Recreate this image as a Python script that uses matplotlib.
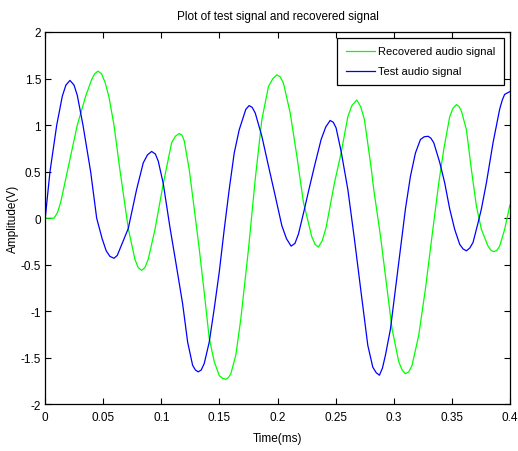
import matplotlib
matplotlib.use("Agg")
import matplotlib.pyplot as plt

plt.rcParams["font.family"] = ["Liberation Sans Narrow", "Liberation Sans", "DejaVu Sans"]

# time axis (ms) and amplitudes (V)
test_t = [0.0, 0.0041, 0.0099, 0.0147, 0.0178, 0.0213, 0.0248, 0.0276, 0.0325,
          0.0391, 0.0443, 0.0490, 0.0525, 0.0557, 0.0592, 0.0620, 0.0643, 0.0715,
          0.0787, 0.0844, 0.0880, 0.0916, 0.0948, 0.0973, 0.1016, 0.1074, 0.1125,
          0.1183, 0.1226, 0.1269, 0.1293, 0.1317, 0.1343, 0.1369, 0.1412, 0.1455,
          0.1498, 0.1541, 0.1584, 0.1627, 0.1670, 0.1727, 0.1756, 0.1782, 0.1808,
          0.1865, 0.1922, 0.1980, 0.2037, 0.2077, 0.2117, 0.2150, 0.2180, 0.2232,
          0.2261, 0.2318, 0.2375, 0.2415, 0.2453, 0.2480, 0.2504, 0.2547, 0.2605,
          0.2662, 0.2719, 0.2777, 0.2820, 0.2850, 0.2877, 0.2903, 0.2929, 0.2972,
          0.3015, 0.3058, 0.3101, 0.3144, 0.3187, 0.3230, 0.3263, 0.3296, 0.3320,
          0.3345, 0.3396, 0.3439, 0.3482, 0.3525, 0.3568, 0.3597, 0.3626, 0.3655,
          0.3683, 0.3726, 0.3755, 0.3798, 0.3855, 0.3912, 0.3935, 0.3955, 0.4000]
test_v = [0.0, 0.50, 1.00, 1.31, 1.43, 1.48, 1.43, 1.32, 1.00,
          0.50, 0.00, -0.22, -0.35, -0.41, -0.43, -0.40, -0.33, -0.11,
          0.31, 0.595, 0.68, 0.717, 0.69, 0.613, 0.374, -0.10, -0.48,
          -0.92, -1.33, -1.58, -1.63, -1.65, -1.63, -1.56, -1.33, -0.97,
          -0.58, -0.12, 0.31, 0.70, 0.95, 1.17, 1.21, 1.19, 1.13,
          0.88, 0.56, 0.24, -0.08, -0.22, -0.30, -0.27, -0.17, 0.10,
          0.26, 0.56, 0.845, 0.98, 1.05, 1.03, 0.97, 0.72, 0.31,
          -0.225, -0.795, -1.365, -1.60, -1.66, -1.686, -1.61, -1.47, -1.19,
          -0.76, -0.33, 0.10, 0.45, 0.70, 0.845, 0.875, 0.88, 0.86,
          0.81, 0.60, 0.38, 0.10, -0.12, -0.28, -0.33, -0.35, -0.32,
          -0.26, -0.05, 0.10, 0.38, 0.81, 1.17, 1.27, 1.33, 1.36]

rec_t = [0.0, 0.0076, 0.0105, 0.0133, 0.0190, 0.0276, 0.0348, 0.0400, 0.0425,
         0.0454, 0.0485, 0.0515, 0.0549, 0.0592, 0.0643, 0.0715, 0.0772, 0.0800,
         0.0830, 0.0858, 0.0887, 0.0945, 0.1016, 0.1088, 0.1120, 0.1154, 0.1178,
         0.1197, 0.1240, 0.1283, 0.1326, 0.1369, 0.1412, 0.1455, 0.1498, 0.1527,
         0.1555, 0.1578, 0.1598, 0.1641, 0.1684, 0.1750, 0.1808, 0.1865, 0.1922,
         0.1960, 0.1994, 0.2022, 0.2051, 0.2109, 0.2166, 0.2223, 0.2295, 0.2323,
         0.2352, 0.2385, 0.2418, 0.2490, 0.2547, 0.2605, 0.2640, 0.2682, 0.2715,
         0.2748, 0.2805, 0.2828, 0.2886, 0.2943, 0.2986, 0.3043, 0.3072, 0.3101,
         0.3130, 0.3158, 0.3215, 0.3273, 0.3330, 0.3388, 0.3431, 0.3482, 0.3510,
         0.3540, 0.3562, 0.3583, 0.3626, 0.3669, 0.3712, 0.3755, 0.3812, 0.3838,
         0.3863, 0.3888, 0.3912, 0.3955, 0.4000]
rec_v = [0.0, 0.0, 0.06, 0.17, 0.50, 1.00, 1.31, 1.49, 1.55,
         1.58, 1.55, 1.46, 1.30, 1.00, 0.52, -0.11, -0.44, -0.53,
         -0.56, -0.53, -0.44, -0.12, 0.37, 0.81, 0.88, 0.91, 0.89,
         0.83, 0.52, 0.10, -0.33, -0.80, -1.29, -1.54, -1.69, -1.72,
         -1.73, -1.71, -1.67, -1.47, -1.08, -0.33, 0.42, 1.06, 1.415,
         1.50, 1.54, 1.52, 1.45, 1.13, 0.67, 0.17, -0.20, -0.28,
         -0.31, -0.24, -0.10, 0.38, 0.70, 1.09, 1.21, 1.27, 1.20,
         1.06, 0.55, 0.31, -0.19, -0.76, -1.19, -1.54, -1.63, -1.67,
         -1.65, -1.58, -1.26, -0.76, -0.19, 0.38, 0.74, 1.09, 1.18,
         1.22, 1.20, 1.15, 0.95, 0.52, 0.13, -0.12, -0.30, -0.345,
         -0.36, -0.345, -0.30, -0.12, 0.14]

x_ticks = [0, 0.05, 0.1, 0.15, 0.2, 0.25, 0.3, 0.35, 0.4]
x_labels = ["0", "0.05", "0.1", "0.15", "0.2", "0.25", "0.3", "0.35", "0.4"]
y_ticks = [-2, -1.5, -1, -0.5, 0, 0.5, 1, 1.5, 2]
y_labels = ["-2", "-1.5", "-1", "-0.5", "0", "0.5", "1", "1.5", "2"]

fig = plt.figure(figsize=(5.18, 4.52), dpi=100)
ax = fig.add_axes([0.0873, 0.103, 0.897, 0.824])

ax.plot(rec_t, rec_v, color="#00ff00", linewidth=0.9, label="Recovered audio signal")
ax.plot(test_t, test_v, color="#0000ff", linewidth=0.9, label="Test audio signal")

ax.set_xlim(0, 0.4)
ax.set_ylim(-2, 2)
ax.set_xticks(x_ticks)
ax.set_xticklabels(x_labels)
ax.set_yticks(y_ticks)
ax.set_yticklabels(y_labels)
ax.tick_params(direction="in", top=True, right=True, length=4, width=0.8,
               labelsize=8.5)
ax.tick_params(axis="x", pad=5)
ax.tick_params(axis="y", pad=3)
for sp in ax.spines.values():
    sp.set_linewidth(0.9)

ax.set_title("Plot of test signal and recovered signal", fontsize=8.5, pad=9)
ax.set_xlabel("Time(ms)", fontsize=8.5, labelpad=6)
ax.set_ylabel("Amplitude(V)", fontsize=8.5, labelpad=1)

leg = ax.legend(loc="upper right", fontsize=8, frameon=True, fancybox=False,
                edgecolor="black", framealpha=1, borderaxespad=0.5, borderpad=0.8,
                handlelength=2.6, handletextpad=0.3, labelspacing=0.9)
leg.get_frame().set_linewidth(0.9)

fig.savefig("out.png", dpi=100)
